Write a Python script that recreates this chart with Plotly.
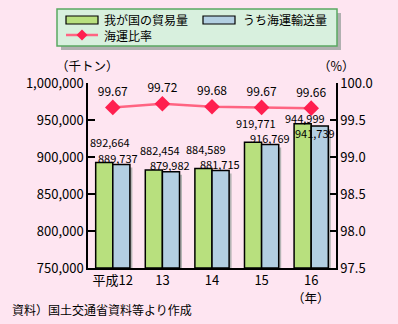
import plotly.graph_objects as go

# ---- data ----
categories = ["平成12", "13", "14", "15", "16"]
trade_total = [892664, 882454, 884589, 919771, 944999]
maritime = [889737, 879982, 881715, 916769, 941739]
ratio = [99.67, 99.72, 99.68, 99.67, 99.66]
left_ticks = [750000, 800000, 850000, 900000, 950000, 1000000]
right_ticks = [97.5, 98.0, 98.5, 99.0, 99.5, 100.0]

# ---- style ----
W, H = 398, 324
ML, MR, MT, MB = 88, 62, 83, 56
BG = "#fee5f1"
GREEN = "#b8e07e"
BLUE = "#b3cfe2"
LINE = "#ff6482"
MARK = "#ff1f4f"
FONT = "Noto Sans CJK JP"
BW = 0.345

pw, ph = W - ML - MR, H - MT - MB
def px(x):
    return (x - ML) / pw
def py(y):
    return (H - MB - y) / ph

fig = go.Figure()
# shadows
shadow_drop = (3.0 / ph) * (left_ticks[-1] - left_ticks[0])
fig.add_trace(go.Bar(x=categories, y=[v - shadow_drop - left_ticks[0] for v in maritime], offset=0.05, width=BW,
                     marker=dict(color="#b4b4b4", line=dict(width=0)), hoverinfo="skip",
                     base=left_ticks[0], showlegend=False))
fig.add_trace(go.Bar(x=categories, y=[v - left_ticks[0] for v in trade_total], base=left_ticks[0],
                     offset=-BW, width=BW, name="我が国の貿易量",
                     marker=dict(color=GREEN, line=dict(color="black", width=1.5)), showlegend=False))
fig.add_trace(go.Bar(x=categories, y=[v - left_ticks[0] for v in maritime], base=left_ticks[0],
                     offset=0, width=BW, name="うち海運輸送量",
                     marker=dict(color=BLUE, line=dict(color="black", width=1.5)), showlegend=False))
fig.add_trace(go.Scatter(x=categories, y=ratio, yaxis="y2", mode="lines+markers+text",
                         text=[f"{v:.2f}" for v in ratio], textposition="top center",
                         textfont=dict(family=FONT, size=12, color="black"),
                         line=dict(color=LINE, width=2.5),
                         marker=dict(symbol="diamond", size=12, color=MARK),
                         name="海運比率", showlegend=False, cliponaxis=False))

# bar value labels
g_dx = [-3, -2, -6, -6, -6]
g_dy = [20, 19.5, 19, 19, 6]
b_dx = [5, 8, 8, 8, 4]
b_dy = [7, 6.5, 6.5, 6.5, -7]
ann = []
for i, c in enumerate(categories):
    ann.append(dict(x=i, y=trade_total[i], xref="x", yref="y", text=f"{trade_total[i]:,}",
                    showarrow=False, xshift=g_dx[i], yshift=g_dy[i], xanchor="center", yanchor="middle",
                    font=dict(family=FONT, size=11, color="black")))
    ann.append(dict(x=i, y=maritime[i], xref="x", yref="y", text=f"{maritime[i]:,}",
                    showarrow=False, xshift=b_dx[i], yshift=b_dy[i], xanchor="center", yanchor="middle",
                    font=dict(family=FONT, size=11, color="black")))

def label(x, y, text, size=13, xanchor="center", xref="paper"):
    return dict(x=x, y=y, xref=xref, yref="paper", text=text, showarrow=False,
                xanchor=xanchor, yanchor="middle", font=dict(family=FONT, size=size, color="black"))

ann += [
    label(px(87), py(65), "（千トン）", size=12.5),
    label(px(336), py(65), "（%）", size=12.5),
    label(len(categories) - 1, py(297), "（年）", xref="x", size=12.5),
    label(px(10), py(309), "資料）国土交通省資料等より作成", size=12, xanchor="left"),
    label(px(102), py(19.5), "我が国の貿易量", size=12, xanchor="left"),
    label(px(241), py(19.5), "うち海運輸送量", size=12, xanchor="left"),
    label(px(102), py(36), "海運比率", size=12, xanchor="left"),
]

def rect(x0, y0, x1, y1, fill, line_color=None, lw=0):
    return dict(type="rect", xref="paper", yref="paper", x0=px(x0), x1=px(x1), y0=py(y0), y1=py(y1),
                fillcolor=fill, line=dict(color=line_color or fill, width=lw), layer="above")

shapes = [
    rect(61, 13, 341, 50, "#b0b0b0"),
    rect(57, 9, 337, 46, "#d8f0de", "#5aa862", 1.5),
    rect(66, 16, 98, 24, GREEN, "black", 1.2),
    rect(203, 16, 235, 24, BLUE, "black", 1.2),
    dict(type="line", xref="paper", yref="paper", x0=px(66), x1=px(98), y0=py(35), y1=py(35),
         line=dict(color=LINE, width=2.5), layer="above"),
    dict(type="path", xref="paper", yref="paper",
         path=f"M {px(82)},{py(29.5)} L {px(87.5)},{py(35)} L {px(82)},{py(40.5)} L {px(76.5)},{py(35)} Z",
         fillcolor=MARK, line=dict(color=MARK, width=0), layer="above"),
]

fig.update_layout(
    width=W, height=H, margin=dict(l=ML, r=MR, t=MT, b=MB),
    paper_bgcolor=BG, plot_bgcolor=BG, barmode="overlay", showlegend=False,
    font=dict(family=FONT, color="black"),
    annotations=ann, shapes=shapes,
    xaxis=dict(type="category", range=[-0.5, len(categories) - 0.5], showgrid=False, showline=True,
               linecolor="black", linewidth=1.5, ticks="", tickfont=dict(size=13), fixedrange=True,
               tickangle=0),
    yaxis=dict(range=[left_ticks[0], left_ticks[-1]], tickvals=left_ticks, tickformat=",",
               showgrid=False, showline=True, linecolor="black", linewidth=1.5, zeroline=False,
               ticks="inside", ticklen=7, tickwidth=1.5, tickcolor="black", tickfont=dict(size=13)),
    yaxis2=dict(range=[right_ticks[0], right_ticks[-1]], tickvals=right_ticks, tickformat=".1f",
                overlaying="y", side="right", showgrid=False, showline=True, linecolor="black",
                linewidth=1.5, zeroline=False, ticks="inside", ticklen=6, tickwidth=1.5,
                tickcolor="black", tickfont=dict(size=13)),
)

fig.write_html("out.html")
